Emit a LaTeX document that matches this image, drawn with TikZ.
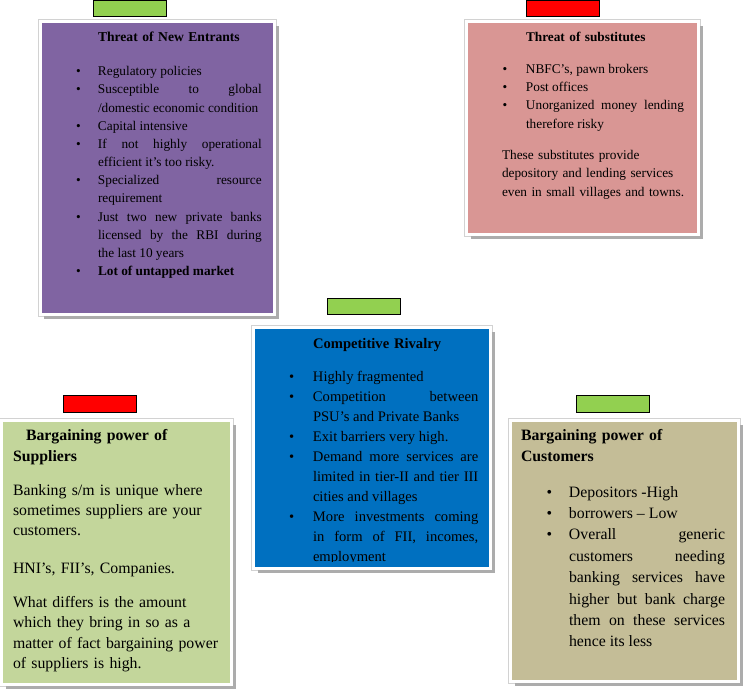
\documentclass[tikz,border=0pt]{standalone}
\usepackage{fontspec}
\setmainfont{Liberation Serif}
\usetikzlibrary{shadows}
\definecolor{purp}{HTML}{8064A2}
\definecolor{pinkc}{HTML}{D99694}
\definecolor{bluec}{HTML}{0070C0}
\definecolor{lgreen}{HTML}{C3D69B}
\definecolor{khaki}{HTML}{C4BD97}
\definecolor{tabgreen}{HTML}{92D050}
\definecolor{tabred}{HTML}{FF0000}
\newlength\hangw
\newcommand\itm[1]{\noindent\hangindent=\hangw\hangafter=1\makebox[\hangw][l]{\textbullet}#1\par}
\tolerance=10000 \hbadness=10000 \hyphenpenalty=10000 \exhyphenpenalty=10000
\begin{document}
\begin{tikzpicture}[x=1pt,y=-1pt,
  panel/.style={rectangle, inner sep=0pt, outer sep=0pt, draw=white, line width=3pt,
    preaction={draw=gray!35, line width=4.6pt},
    drop shadow={shadow xshift=4pt, shadow yshift=-4pt, fill=gray!65, opacity=1}},
  tabbox/.style={rectangle, draw=black, line width=0.7pt, minimum width=73pt, minimum height=16pt, inner sep=0pt},
  txt/.style={inner sep=0pt, outer sep=0pt, anchor=base west, align=justify},
  ttl/.style={inner sep=0pt, outer sep=0pt, anchor=base west, text width=220pt, align=left},
  plain/.style={inner sep=0pt, outer sep=0pt, anchor=base west, text width=220pt, align=left}
]
\useasboundingbox (0,0) rectangle (743,688);

% panels
\node[panel, fill=purp, minimum width=234.5pt, minimum height=293pt] (entrants) at (157.25,168) {};
\node[panel, fill=pinkc, minimum width=232pt, minimum height=213pt] (subs) at (582.5,128) {};
\node[panel, fill=bluec, minimum width=237pt, minimum height=241pt] (rivalry) at (372,448) {};
\node[panel, fill=lgreen, minimum width=230pt, minimum height=264pt] (suppliers) at (116.5,552.5) {};
\node[panel, fill=khaki, minimum width=228pt, minimum height=261pt] (customers) at (624.5,551) {};

% tabs
\node[tabbox, fill=tabgreen] (tabA) at (129.5,8.5) {};
\node[tabbox, fill=tabred] (tabB) at (563,8.5) {};
\node[tabbox, fill=tabgreen] (tabC) at (363.5,306) {};
\node[tabbox, fill=tabred, minimum height=17pt] (tabD) at (99.5,403.5) {};
\node[tabbox, fill=tabgreen, minimum height=17pt] (tabE) at (613,403.5) {};

% Threat of New Entrants
\node[ttl, font=\bfseries\fontsize{13.6}{16}\selectfont] (entTitle) at (98,41.5) {Threat of New Entrants};
\node[txt, text width=185.7pt, font=\fontsize{13.3}{18.18}\selectfont,
  execute at begin node={\setlength\hangw{22pt}}] (entList) at (76,75.7)
{\itm{Regulatory policies}%
\itm{Susceptible to global\linebreak /domestic economic condition}%
\itm{Capital intensive}%
\itm{If not highly operational\linebreak efficient it’s too risky.}%
\itm{Specialized resource\linebreak requirement}%
\itm{Just two new private banks\linebreak licensed by the RBI during\linebreak the last 10 years}%
\itm{\textbf{Lot of untapped market}}};

% Threat of substitutes
\node[ttl, font=\bfseries\fontsize{13.3}{16}\selectfont] (subTitle) at (526,41) {Threat of substitutes};
\node[txt, text width=181.3pt, font=\fontsize{13.3}{18.4}\selectfont,
  execute at begin node={\setlength\hangw{23.3pt}}] (subList) at (502.7,73)
{\itm{NBFC’s, pawn brokers}%
\itm{Post offices}%
\itm{Unorganized money lending\linebreak therefore risky}};
\node[plain, font=\fontsize{13.3}{18.6}\selectfont] (subText) at (502,159)
{These substitutes provide\\depository and lending services\\even in small villages and towns.};

% Competitive Rivalry
\begin{scope}
\clip (255,329) rectangle (489,561);
\node[ttl, font=\bfseries\fontsize{14.6}{18}\selectfont] (rivTitle) at (313,348) {Competitive Rivalry};
\node[txt, text width=189.3pt, font=\fontsize{14.6}{19.95}\selectfont,
  execute at begin node={\setlength\hangw{24pt}}] (rivList) at (289,381.5)
{\itm{Highly fragmented}%
\itm{Competition between\linebreak PSU’s and Private Banks}%
\itm{Exit barriers very high.}%
\itm{Demand more services are\linebreak limited in tier-II and tier III\linebreak cities and villages}%
\itm{More investments coming\linebreak in form of FII, incomes,\linebreak employment}};
\end{scope}

% Bargaining power of Suppliers
\node[ttl, font=\bfseries\fontsize{15.8}{21}\selectfont] (supTitle) at (13,440)
{\hspace*{13pt}Bargaining power of\\Suppliers};
\node[plain, font=\fontsize{15.8}{20.2}\selectfont] (supTextA) at (13,495.5)
{Banking s/m is unique where\\sometimes suppliers are your\\customers.};
\node[plain, font=\fontsize{15.8}{20.5}\selectfont] (supTextB) at (13,573.5)
{HNI’s, FII’s, Companies.};
\node[plain, font=\fontsize{15.8}{20.5}\selectfont] (supTextC) at (13,607)
{What differs is the amount\\which they bring in so as a\\matter of fact bargaining power\\of suppliers is high.};

% Bargaining power of Customers
\node[ttl, font=\bfseries\fontsize{15.8}{21}\selectfont] (cusTitle) at (521,440)
{Bargaining power of\\Customers};
\node[txt, text width=178.5pt, font=\fontsize{15.8}{21.4}\selectfont,
  execute at begin node={\setlength\hangw{22.5pt}}] (cusList) at (546.5,497)
{\itm{Depositors -High}%
\itm{borrowers – Low}%
\itm{Overall generic\linebreak customers needing\linebreak banking services have\linebreak higher but bank charge\linebreak them on these services\linebreak hence its less}};
\end{tikzpicture}
\end{document}
